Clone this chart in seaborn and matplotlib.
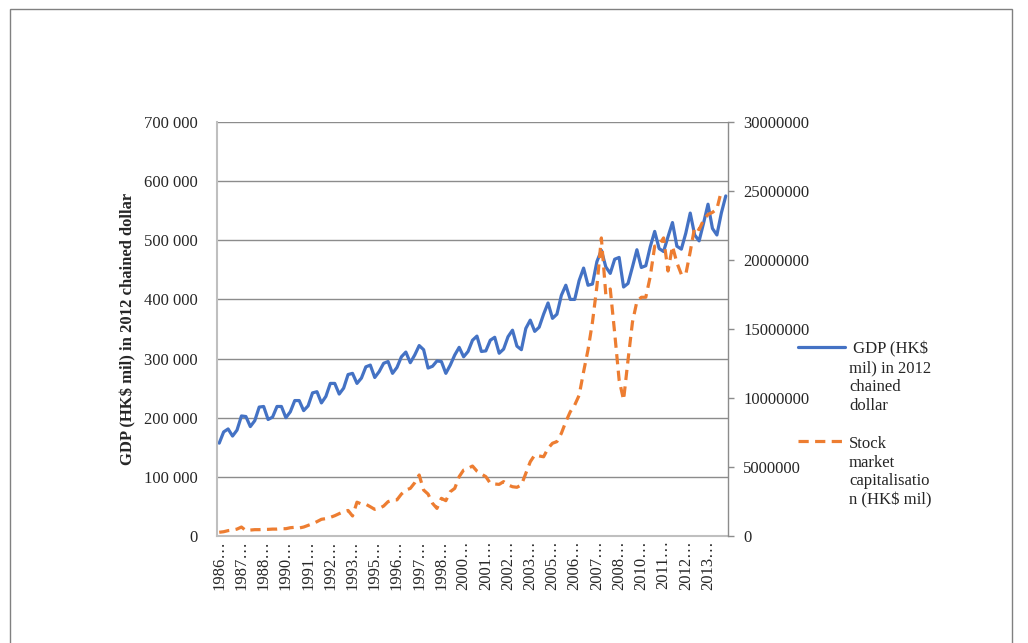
import numpy as np
import pandas as pd
import matplotlib
matplotlib.use("Agg")
import matplotlib.pyplot as plt
import seaborn as sns
from matplotlib.ticker import FuncFormatter, MultipleLocator
from matplotlib.lines import Line2D
from matplotlib.patches import Rectangle

# quarterly data, 1986 Q2 - 2014 Q4
quarters = pd.period_range("1986Q2", "2014Q4", freq="Q").astype(str)

# GDP (HK$ mil) in 2012 chained dollar (thousands)
gdp_k = [157, 176, 181, 169, 179, 203, 202, 185, 195, 218,
         219, 197, 201, 219, 219, 200, 210, 229, 229, 212,
         220, 242, 244, 225, 236, 258, 258, 240, 250, 273,
         275, 258, 267, 286, 289, 268, 278, 292, 295, 275,
         285, 303, 311, 293, 306, 322, 315, 284, 287, 296,
         295, 275, 289, 306, 319, 303, 312, 331, 338, 312,
         313, 331, 336, 309, 316, 337, 348, 321, 315, 351,
         365, 346, 353, 375, 394, 368, 375, 407, 424, 400,
         400, 432, 453, 424, 426, 464, 483, 455, 444, 468,
         471, 421, 427, 455, 484, 454, 457, 489, 515, 486,
         481, 506, 530, 490, 485, 512, 546, 509, 499, 529,
         561, 520, 509, 546, 575]

# Stock market capitalisation (HK$ mil), millions of HK$ mil
stock_m = [0.27, 0.31, 0.39, 0.43, 0.50, 0.65, 0.39, 0.43, 0.46, 0.46,
           0.48, 0.48, 0.50, 0.50, 0.53, 0.53, 0.60, 0.63, 0.58, 0.65,
           0.77, 0.89, 1.04, 1.21, 1.26, 1.35, 1.47, 1.62, 1.76, 1.85,
           1.45, 2.45, 2.32, 2.30, 2.12, 1.93, 2.00, 2.17, 2.49, 2.60,
           2.62, 3.04, 3.33, 3.45, 3.86, 4.42, 3.33, 3.04, 2.37, 2.00,
           2.73, 2.56, 3.21, 3.45, 4.30, 4.78, 4.90, 5.07, 4.70, 4.49,
           4.30, 3.82, 3.77, 3.74, 3.94, 3.70, 3.57, 3.53, 3.70, 4.54,
           5.38, 5.87, 5.80, 5.74, 6.35, 6.72, 6.84, 7.44, 8.28, 9.00,
           9.49, 10.2, 11.9, 13.5, 15.5, 18.1, 21.6, 17.5, 17.9, 14.7,
           11.3, 9.86, 12.75, 15.5, 17.0, 17.3, 17.3, 18.8, 21.0, 21.1,
           21.6, 19.2, 21.0, 19.8, 18.96, 18.96, 20.6, 22.4, 22.2, 22.9,
           23.3, 23.45, 23.7, 25.0, np.nan]

# category labels as shown (Excel truncates them), every 5th quarter
tick_labels = ["1986…", "1987…", "1988…", "1990…", "1991…", "1992…",
               "1993…", "1995…", "1996…", "1997…", "1998…", "2000…",
               "2001…", "2002…", "2003…", "2005…", "2006…", "2007…",
               "2008…", "2010…", "2011…", "2012…", "2013…"]

gdp_label = "GDP (HK$ mil) in 2012 chained dollar"
stock_label = "Stock market capitalisation (HK$ mil)"

df = pd.DataFrame({
    "quarter": quarters,
    "pos": np.arange(len(quarters)),
    "gdp": np.array(gdp_k) * 1000,
    "stock": np.array(stock_m) * 1e6,
})

sns.set_style("white")
plt.rcParams["font.family"] = ["Liberation Serif", "DejaVu Serif"]
plt.rcParams["font.size"] = 12

blue = "#4472C4"
orange = "#ED7D31"
W, H = 1028, 643

fig = plt.figure(figsize=(W / 100, H / 100), dpi=100)
ax = fig.add_axes([217 / W, 1 - 536 / H, 511 / W, 414 / H])
ax2 = ax.twinx()

sns.lineplot(data=df, x="pos", y="gdp", ax=ax, color=blue, linewidth=2.3)
sns.lineplot(data=df, x="pos", y="stock", ax=ax2, color=orange,
             linewidth=2.3, linestyle=(0, (3.2, 2.0)))

# left axis
ax.set_xlim(-0.5, len(df) - 0.5)
ax.set_ylim(0, 700000)
ax.yaxis.set_major_locator(MultipleLocator(100000))
ax.yaxis.set_major_formatter(FuncFormatter(lambda v, p: f"{int(v):,}".replace(",", " ")))
ax.yaxis.grid(True, color="#8c8c8c", linewidth=1)
ax.set_axisbelow(True)
ax.set_xticks(df["pos"][::5])
ax.set_xticklabels(tick_labels)
ax.tick_params(axis="y", length=0, pad=14, labelsize=12)
ax.tick_params(axis="x", length=0, pad=3, labelsize=12, rotation=90)
ax.set_xlabel("")
ax.set_ylabel(gdp_label, fontweight="bold", fontsize=12, labelpad=5)
for s in ["top", "right"]:
    ax.spines[s].set_visible(False)
for s in ["left", "bottom"]:
    ax.spines[s].set_color("#bfbfbf")
    ax.spines[s].set_linewidth(1.5)

# right axis
ax2.set_ylim(0, 30000000)
ax2.yaxis.set_major_locator(MultipleLocator(5000000))
ax2.yaxis.set_major_formatter(FuncFormatter(lambda v, p: f"{int(v)}"))
ax2.tick_params(axis="y", length=4, width=1, color="#8c8c8c", pad=7,
                labelsize=12, direction="out")
ax2.set_ylabel("")
for s in ["top", "left", "bottom"]:
    ax2.spines[s].set_visible(False)
ax2.spines["right"].set_color("#8c8c8c")
ax2.spines["right"].set_linewidth(1)

# legend, Excel style: handle next to the first line of each label
fig.add_artist(Line2D([798 / W, 845 / W], [1 - 347 / H] * 2, color=blue,
                      linewidth=2.3, transform=fig.transFigure))
fig.add_artist(Line2D([798 / W, 845 / W], [1 - 441 / H] * 2, color=orange,
                      linewidth=2.3, linestyle=(0, (3.2, 2.0)),
                      transform=fig.transFigure))
fig.text(849 / W, 1 - 377.5 / H, " GDP (HK$\nmil) in 2012\nchained\ndollar",
         ha="left", va="center", fontsize=12, linespacing=1.22)
fig.text(849 / W, 1 - 472 / H, "Stock\nmarket\ncapitalisatio\nn (HK$ mil)",
         ha="left", va="center", fontsize=12, linespacing=1.22)

# chart area border
fig.add_artist(Rectangle((10 / W, -0.02), 1002 / W, 1 - 9 / H + 0.02,
                         fill=False, edgecolor="#808080", linewidth=1,
                         transform=fig.transFigure))

fig.savefig("out.png", dpi=100)
